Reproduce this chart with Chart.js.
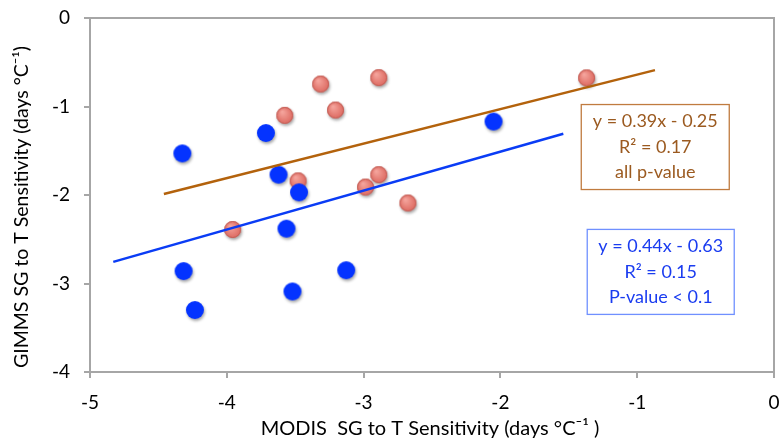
<!DOCTYPE html>
<html>
<head>
<meta charset="utf-8">
<script src="https://cdn.jsdelivr.net/npm/chart.js@4/dist/chart.umd.min.js"></script>
<style>
html,body{margin:0;padding:0;background:#fff;}
#wrap{width:779px;height:438px;position:relative;}
</style>
</head>
<body>
<div id="wrap"><canvas id="c" width="779" height="438"></canvas></div>
<script>
// ---- data ----
const blueX = [-4.325, -3.714, -3.622, -3.472, -3.564, -4.316, -4.233, -3.520, -3.127, -2.05];
const blueY = [-1.53, -1.30, -1.77, -1.97, -2.38, -2.86, -3.30, -3.09, -2.85, -1.17];
const redX  = [-3.314, -2.889, -3.576, -3.205, -3.479, -2.889, -2.986, -2.676, -3.957, -1.37];
const redY  = [-0.746, -0.674, -1.10, -1.04, -1.84, -1.77, -1.91, -2.09, -2.39, -0.676];
// trend lines (equations shown in chart) and their x extents
const allFit  = {slope: 0.39, intercept: -0.25, x: [-4.46, -0.87]};
const blueFit = {slope: 0.44, intercept: -0.63, x: [-4.83, -1.54]};
const xTicks = [-5, -4, -3, -2, -1, 0];
const yTicks = [-4, -3, -2, -1, 0];
const xTitle = 'MODIS  SG to T Sensitivity (days °C⁻¹ )';
const yTitle = 'GIMMS SG to T Sensitivity (days °C⁻¹)';
const allLabel  = ["y = 0.39x - 0.25", "R² = 0.17", "all p-value"];
const blueLabel = ["y = 0.44x - 0.63", "R² = 0.15", "P-value < 0.1"];
const allLabelPos  = {x: -0.868, y: -1.458};
const blueLabelPos = {x: -0.828, y: -2.869};

const FONT = "Lato, 'Open Sans', sans-serif";

function makeDot(r, inner, outer, border) {
  const s = Math.ceil(r * 2 + 10);
  const cv = document.createElement('canvas');
  cv.width = s; cv.height = s;
  const g = cv.getContext('2d');
  const c = s / 2;
  g.save();
  g.shadowColor = 'rgba(0,0,0,0.35)';
  g.shadowBlur = 3;
  g.shadowOffsetX = 1;
  g.shadowOffsetY = 2;
  g.beginPath(); g.arc(c, c, r, 0, Math.PI * 2);
  if (inner !== outer) {
    const grd = g.createRadialGradient(c - r * 0.3, c - r * 0.4, r * 0.1, c, c, r);
    grd.addColorStop(0, inner); grd.addColorStop(1, outer);
    g.fillStyle = grd;
  } else g.fillStyle = inner;
  g.fill();
  g.restore();
  if (border) {
    g.beginPath(); g.arc(c, c, r - 0.5, 0, Math.PI * 2);
    g.strokeStyle = border; g.lineWidth = 1; g.stroke();
  }
  return cv;
}
const blueDot = makeDot(9, '#0433ff', '#0433ff', null);
const redDot = makeDot(8.5, '#f4a39b', '#dd6a61', '#c05d55');

const zip = (xs, ys) => xs.map((x, i) => ({x, y: ys[i]}));
const fitPts = f => f.x.map(x => ({x, y: f.slope * x + f.intercept}));

const boxPlugin = {
  id: 'boxes',
  afterDatasetsDraw(chart) {
    const {ctx, chartArea: a, scales} = chart;
    ctx.save();
    ctx.strokeStyle = '#a6a6a6';
    ctx.lineWidth = 2;
    ctx.strokeRect(a.left, a.top, a.right - a.left, a.bottom - a.top);
    const drawBox = (lines, pos, color, border, w, h) => {
      const cx = scales.x.getPixelForValue(pos.x);
      const cy = scales.y.getPixelForValue(pos.y);
      ctx.fillStyle = '#fff';
      ctx.fillRect(cx - w / 2, cy - h / 2, w, h);
      ctx.strokeStyle = border; ctx.lineWidth = 1.3;
      ctx.strokeRect(cx - w / 2, cy - h / 2, w, h);
      ctx.fillStyle = color;
      ctx.font = '18px ' + FONT;
      ctx.textAlign = 'center'; ctx.textBaseline = 'middle';
      lines.forEach((t, i) => ctx.fillText(t, cx, cy + (i - 1) * 25.5));
    };
    drawBox(allLabel, allLabelPos, '#9b5a20', '#c07b3f', 148, 85);
    drawBox(blueLabel, blueLabelPos, '#1a3cf0', '#7090ff', 147, 85);
    // axis titles
    ctx.fillStyle = '#000';
    ctx.textAlign = 'center'; ctx.textBaseline = 'middle';
    ctx.font = '20px ' + FONT;
    ctx.fillText(xTitle, 430, 429);
    ctx.save();
    ctx.translate(22, 207);
    ctx.rotate(-Math.PI / 2);
    ctx.font = '19.5px ' + FONT;
    ctx.fillText(yTitle, 0, 0);
    ctx.restore();
    ctx.restore();
  }
};

new Chart(document.getElementById('c'), {
  type: 'scatter',
  data: {
    datasets: [
      {label: 'all fit', type: 'line', data: fitPts(allFit), borderColor: '#b3620c', borderWidth: 2.5, pointRadius: 0, fill: false, order: 0},
      {label: 'blue fit', type: 'line', data: fitPts(blueFit), borderColor: '#0a3cf5', borderWidth: 2.5, pointRadius: 0, fill: false, order: 0},
      {label: 'blue', data: zip(blueX, blueY), pointStyle: blueDot, order: 1},
      {label: 'red', data: zip(redX, redY), pointStyle: redDot, order: 2}
    ]
  },
  options: {
    responsive: false,
    animation: false,
    devicePixelRatio: 1,
    layout: {padding: {top: 18, right: 2, left: 0, bottom: 0}},
    plugins: {legend: {display: false}, tooltip: {enabled: false}},
    scales: {
      x: {
        type: 'linear', min: -5, max: 0,
        afterBuildTicks: s => { s.ticks = xTicks.map(v => ({value: v})); },
        afterFit: s => { s.height = 66; s.paddingLeft = 0; s.paddingRight = 0; },
        grid: {display: true, drawOnChartArea: false, color: '#a6a6a6', tickLength: 6, lineWidth: 2},
        border: {color: '#a6a6a6', width: 2},
        ticks: {color: '#000', font: {family: FONT, size: 19}, padding: 13, maxRotation: 0},
        title: {display: false}
      },
      y: {
        type: 'linear', min: -4, max: 0,
        afterBuildTicks: s => { s.ticks = yTicks.map(v => ({value: v})); },
        afterFit: s => { s.width = 90; s.paddingTop = 0; s.paddingBottom = 0; },
        grid: {display: true, drawOnChartArea: false, color: '#a6a6a6', tickLength: 6, lineWidth: 2},
        border: {color: '#a6a6a6', width: 2},
        ticks: {color: '#000', font: {family: FONT, size: 19}, padding: 14},
        title: {display: false}
      }
    }
  },
  plugins: [boxPlugin]
});
</script>
</body>
</html>
